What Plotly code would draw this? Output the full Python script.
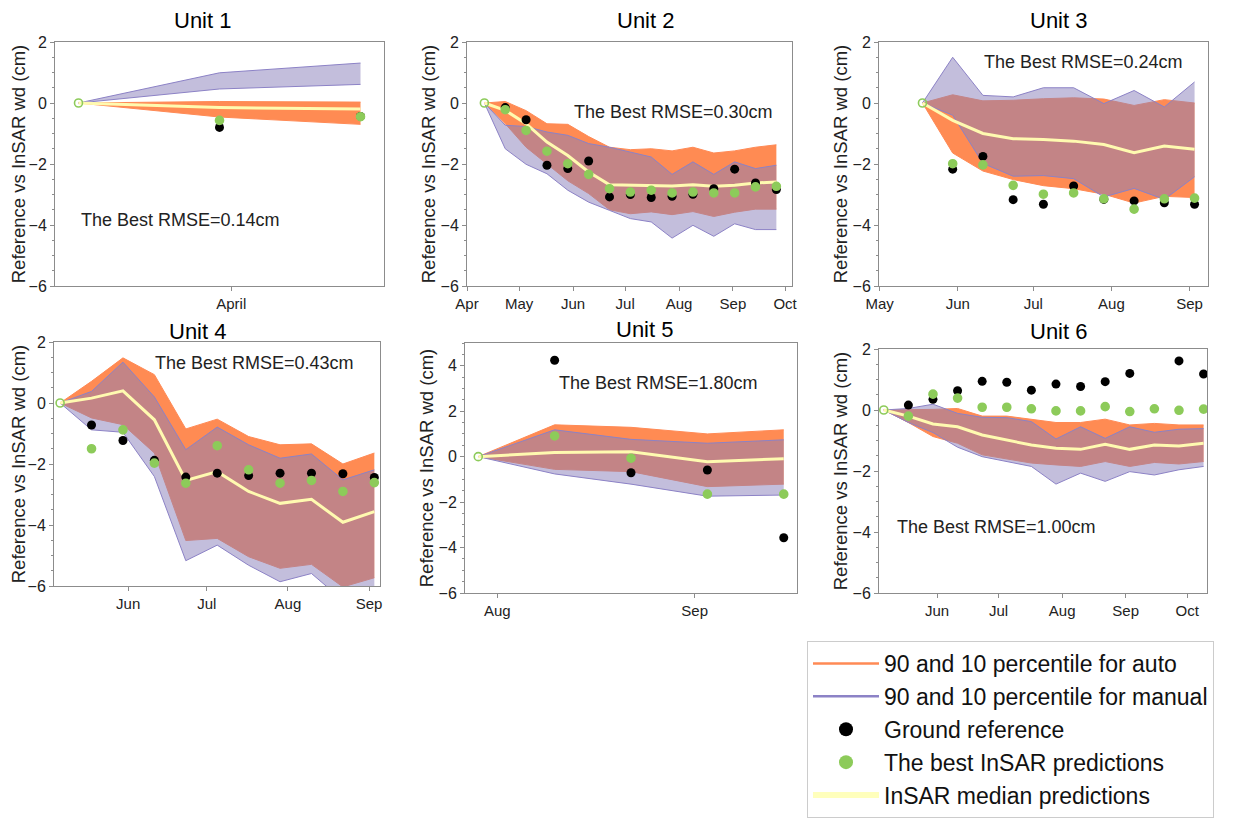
import plotly.graph_objects as go

# ---------------- data ----------------
units = ["Unit 1", "Unit 2", "Unit 3", "Unit 4", "Unit 5", "Unit 6"]
rmse_labels = ["The Best RMSE=0.14cm", "The Best RMSE=0.30cm", "The Best RMSE=0.24cm",
               "The Best RMSE=0.43cm", "The Best RMSE=1.80cm", "The Best RMSE=1.00cm"]

u1_dates = ["2017-03-19", "2017-03-31", "2017-04-12"]
u1_auto_hi = [0, 0.05, 0.03]
u1_auto_lo = [0, -0.46, -0.70]
u1_man_hi = [0, 0.99, 1.31]
u1_man_lo = [0, 0.46, 0.61]
u1_median = [0, -0.15, -0.20]
u1_ground = [None, -0.80, -0.44]
u1_best = [0, -0.57, -0.45]

u2_dates = ["2017-04-11", "2017-04-23", "2017-05-05", "2017-05-17", "2017-05-29", "2017-06-10",
            "2017-06-22", "2017-07-04", "2017-07-16", "2017-07-28", "2017-08-09", "2017-08-21",
            "2017-09-02", "2017-09-14", "2017-09-26"]
u2_auto_hi = [0, 0.05, -0.25, -0.68, -0.70, -1.10, -1.45, -1.53, -1.50, -1.57, -1.45, -1.64, -1.57, -1.45, -1.37]
u2_auto_lo = [0, -0.68, -1.45, -2.00, -2.55, -2.97, -3.50, -3.63, -3.57, -3.66, -3.56, -3.72, -3.58, -3.48, -3.48]
u2_man_hi = [0, -0.73, -0.77, -0.95, -1.06, -1.33, -1.45, -1.60, -1.77, -2.34, -1.93, -2.34, -1.93, -2.15, -2.04]
u2_man_lo = [0, -1.50, -2.01, -2.32, -2.86, -3.25, -3.52, -3.79, -3.90, -4.43, -4.01, -4.37, -3.96, -4.15, -4.15]
u2_median = [0, -0.24, -0.68, -1.28, -1.72, -2.26, -2.68, -2.70, -2.70, -2.72, -2.68, -2.73, -2.70, -2.62, -2.59]
u2_ground = [None, -0.15, -0.55, -2.04, -2.15, -1.90, -3.08, -3.00, -3.10, -3.06, -2.99, -2.81, -2.17, -2.62, -2.84]
u2_best = [0, -0.22, -0.90, -1.58, -1.99, -2.34, -2.81, -2.92, -2.86, -2.95, -2.92, -2.95, -2.95, -2.75, -2.73]

u3_dates = ["2017-05-18", "2017-05-30", "2017-06-11", "2017-06-23", "2017-07-05", "2017-07-17",
            "2017-07-29", "2017-08-10", "2017-08-22", "2017-09-03"]
u3_auto_hi = [0, 0.27, 0.07, 0.09, 0.14, 0.17, 0.13, -0.08, 0.11, 0.00]
u3_auto_lo = [0, -1.64, -2.23, -2.51, -2.71, -2.81, -2.99, -3.28, -3.06, -3.10]
u3_man_hi = [0, 1.50, 0.25, 0.20, 0.50, 0.50, -0.02, 0.41, -0.13, 0.69]
u3_man_lo = [0, -0.40, -1.98, -2.40, -2.38, -2.48, -3.08, -2.80, -3.16, -2.42]
u3_median = [0, -0.57, -1.00, -1.17, -1.20, -1.25, -1.36, -1.63, -1.41, -1.52]
u3_ground = [None, -2.17, -1.75, -3.17, -3.32, -2.72, -3.16, -3.21, -3.27, -3.32]
u3_best = [0, -1.99, -2.03, -2.70, -2.99, -2.95, -3.14, -3.48, -3.14, -3.12]

u4_dates = ["2017-05-06", "2017-05-18", "2017-05-30", "2017-06-11", "2017-06-23", "2017-07-05",
            "2017-07-17", "2017-07-29", "2017-08-10", "2017-08-22", "2017-09-03"]
u4_auto_hi = [0, 0.71, 1.48, 0.93, -0.85, -0.53, -1.10, -1.37, -1.34, -2.00, -1.64]
u4_auto_lo = [0, -0.49, -0.71, -1.64, -4.51, -4.44, -5.04, -5.42, -5.29, -6.03, -5.73]
u4_man_hi = [0, 0.38, 1.34, 0.20, -1.53, -0.79, -1.37, -1.81, -1.67, -2.52, -2.19]
u4_man_lo = [0, -0.88, -0.96, -2.41, -5.17, -4.66, -5.32, -5.86, -5.59, -6.47, -6.30]
u4_median = [0, 0.16, 0.40, -0.55, -2.54, -2.25, -2.90, -3.29, -3.16, -3.91, -3.56]
u4_ground = [None, -0.72, -1.23, -1.88, -2.43, -2.30, -2.38, -2.30, -2.30, -2.32, -2.44]
u4_best = [0, -1.50, -0.88, -1.97, -2.63, -1.40, -2.19, -2.63, -2.54, -2.90, -2.61]

u5_dates = ["2017-07-29", "2017-08-10", "2017-08-22", "2017-09-03", "2017-09-15"]
u5_auto_hi = [0, 1.40, 1.29, 1.00, 1.18]
u5_auto_lo = [0, -0.56, -0.66, -1.32, -1.21]
u5_man_hi = [0, 1.18, 0.76, 0.59, 0.74]
u5_man_lo = [0, -0.76, -1.21, -1.74, -1.69]
u5_median = [0, 0.18, 0.22, -0.22, -0.09]
u5_ground = [None, 4.24, -0.71, -0.59, -3.57]
u5_best = [0, 0.91, -0.07, -1.65, -1.65]

u6_dates = ["2017-05-06", "2017-05-18", "2017-05-30", "2017-06-11", "2017-06-23", "2017-07-05",
            "2017-07-17", "2017-07-29", "2017-08-10", "2017-08-22", "2017-09-03", "2017-09-15",
            "2017-09-27", "2017-10-09"]
u6_auto_hi = [0, 0.00, 0.02, 0.05, -0.20, -0.20, -0.30, -0.41, -0.41, -0.30, -0.49, -0.44, -0.49, -0.49]
u6_auto_lo = [0, -0.41, -0.87, -1.09, -1.47, -1.61, -1.74, -1.80, -1.85, -1.69, -1.85, -1.72, -1.77, -1.69]
u6_man_hi = [0, 0.05, 0.19, -0.11, -0.24, -0.25, -0.38, -0.95, -0.55, -0.93, -0.55, -0.73, -0.63, -0.61]
u6_man_lo = [0, -0.41, -0.74, -1.22, -1.53, -1.69, -1.85, -2.43, -2.07, -2.34, -2.02, -2.13, -1.96, -1.85]
u6_median = [0, -0.20, -0.46, -0.55, -0.82, -0.98, -1.15, -1.25, -1.29, -1.12, -1.29, -1.15, -1.18, -1.09]
u6_ground = [None, 0.16, 0.35, 0.63, 0.94, 0.91, 0.65, 0.85, 0.77, 0.93, 1.20, None, 1.61, 1.18]
u6_best = [0, -0.20, 0.52, 0.39, 0.09, 0.09, 0.04, -0.03, -0.03, 0.11, -0.05, 0.04, -0.01, 0.03]

legend_names = ["90 and 10 percentile for auto", "90 and 10 percentile for manual",
                "Ground reference", "The best InSAR predictions", "InSAR median predictions"]

# ---------------- styling ----------------
OFF = 8                      # page body margin in the browser
W, H = 1233 - OFF, 818 - OFF
FONT = "Liberation Sans, Arial, Helvetica, sans-serif"
ORANGE = "#ff8b53"
ORANGE_LINE = "#ff8a55"
PURPLE_FILL = "rgba(135,125,185,0.5)"
PURPLE_LINE = "#8c82c6"
YELLOW = "#fffab0"
GREEN = "#8dcb5a"
AXIS = "#8c8c8c"


def px(x):
    return (x - OFF) / W


def py(y):
    return 1 - (y - OFF) / H


panels = [
    dict(d=u1_dates, ah=u1_auto_hi, al=u1_auto_lo, mh=u1_man_hi, ml=u1_man_lo, md=u1_median, g=u1_ground, b=u1_best,
         box=(55, 384, 42, 286), rng=["2017-03-17", "2017-04-14"], yr=[-6, 2],
         tv=["2017-04-01"], tt=["April"], title=(202, 20), ann=(79, 220)),
    dict(d=u2_dates, ah=u2_auto_hi, al=u2_auto_lo, mh=u2_man_hi, ml=u2_man_lo, md=u2_median, g=u2_ground, b=u2_best,
         box=(467, 792, 42, 286), rng=["2017-04-01", "2017-10-05"], yr=[-6, 2],
         tv=None, tt=None, title=(645, 20), ann=(572, 112)),
    dict(d=u3_dates, ah=u3_auto_hi, al=u3_auto_lo, mh=u3_man_hi, ml=u3_man_lo, md=u3_median, g=u3_ground, b=u3_best,
         box=(879, 1208, 42, 286), rng=["2017-04-30 18:00", "2017-09-08 08:00"], yr=[-6, 2],
         tv=None, tt=None, title=(1058, 20), ann=(982, 62)),
    dict(d=u4_dates, ah=u4_auto_hi, al=u4_auto_lo, mh=u4_man_hi, ml=u4_man_lo, md=u4_median, g=u4_ground, b=u4_best,
         box=(54, 380, 342, 586), rng=["2017-05-03 16:00", "2017-09-05 04:00"], yr=[-6, 2],
         tv=None, tt=None, title=(197, 331), ann=(153, 363)),
    dict(d=u5_dates, ah=u5_auto_hi, al=u5_auto_lo, mh=u5_man_hi, ml=u5_man_lo, md=u5_median, g=u5_ground, b=u5_best,
         box=(465, 797, 343, 593), rng=["2017-07-26 22:00", "2017-09-17 02:00"], yr=[-6, 5],
         tv=None, tt=None, title=(644, 330), ann=(557, 383)),
    dict(d=u6_dates, ah=u6_auto_hi, al=u6_auto_lo, mh=u6_man_hi, ml=u6_man_lo, md=u6_median, g=u6_ground, b=u6_best,
         box=(879, 1207, 349, 593), rng=["2017-05-03 16:00", "2017-10-10 16:00"], yr=[-6, 2],
         tv=None, tt=None, title=(1058, 331), ann=(895, 527)),
]

fig = go.Figure()
annotations = []
layout_axes = {}

for i, p in enumerate(panels, start=1):
    xa, ya = f"x{i}", f"y{i}"
    common = dict(x=p["d"], xaxis=xa, yaxis=ya, showlegend=False, hoverinfo="skip")
    fig.add_trace(go.Scatter(y=p["ah"], mode="lines", line=dict(color=ORANGE_LINE, width=1), **common))
    fig.add_trace(go.Scatter(y=p["al"], mode="lines", line=dict(color=ORANGE_LINE, width=1),
                             fill="tonexty", fillcolor=ORANGE, **common))
    fig.add_trace(go.Scatter(y=p["mh"], mode="lines", line=dict(color=PURPLE_LINE, width=1), **common))
    fig.add_trace(go.Scatter(y=p["ml"], mode="lines", line=dict(color=PURPLE_LINE, width=1),
                             fill="tonexty", fillcolor=PURPLE_FILL, **common))
    fig.add_trace(go.Scatter(y=p["md"], mode="lines", line=dict(color=YELLOW, width=3), **common))
    fig.add_trace(go.Scatter(y=p["g"], mode="markers", marker=dict(color="black", size=9), **common))
    syms = ["circle-open"] + ["circle"] * (len(p["b"]) - 1)
    fig.add_trace(go.Scatter(y=p["b"], mode="markers",
                             marker=dict(color=GREEN, size=8, symbol=syms, line=dict(color=GREEN, width=1.6)),
                             **common))

    x0, x1, y0, y1 = p["box"]
    xkey = "xaxis" if i == 1 else f"xaxis{i}"
    ykey = "yaxis" if i == 1 else f"yaxis{i}"
    xax = dict(domain=[px(x0), px(x1)], anchor=ya, type="date", range=p["rng"],
               showgrid=False, zeroline=False, showline=True, linecolor=AXIS, linewidth=1, mirror=True,
               ticks="outside", ticklen=4, tickcolor=AXIS, tickfont=dict(size=15, color="#222"),
               tickformat="%b", dtick="M1", automargin=False)
    if p["tv"] is not None:
        xax.update(tickmode="array", tickvals=p["tv"], ticktext=p["tt"])
    yax = dict(domain=[py(y1), py(y0)], anchor=xa, range=p["yr"],
               showgrid=False, zeroline=False, showline=True, linecolor=AXIS, linewidth=1, mirror=True,
               ticks="outside", ticklen=4, tickcolor=AXIS, dtick=2, tick0=0,
               tickfont=dict(size=16, color="#222"), automargin=False,
               minor=dict(dtick=0.5, ticks="outside", ticklen=2.5, tickcolor=AXIS),
               title=dict(text="Reference vs InSAR wd (cm)", font=dict(size=18.5, color="#222"), standoff=0))
    layout_axes[xkey] = xax
    layout_axes[ykey] = yax

    tx, ty = p["title"]
    annotations.append(dict(text=units[i - 1], x=px(tx), y=py(ty), xref="paper", yref="paper",
                            xanchor="center", yanchor="middle", showarrow=False, borderpad=0,
                            font=dict(size=22, color="black")))
    axx, axy = p["ann"]
    annotations.append(dict(text=rmse_labels[i - 1], x=px(axx), y=py(axy), xref="paper", yref="paper",
                            xanchor="left", yanchor="middle", showarrow=False,
                            font=dict(size=18, color="#222")))

# legend-only entries
leg_common = dict(x=[None], y=[None], xaxis="x", yaxis="y", hoverinfo="skip")
fig.add_trace(go.Scatter(name=legend_names[0], mode="lines", line=dict(color=ORANGE_LINE, width=2.5),
                         legendgroup="a", **leg_common))
fig.add_trace(go.Scatter(name=legend_names[1], mode="lines", line=dict(color=PURPLE_LINE, width=2.5),
                         legendgroup="b", **leg_common))
fig.add_trace(go.Scatter(name=legend_names[2], mode="markers", marker=dict(color="black", size=14),
                         legendgroup="c", **leg_common))
fig.add_trace(go.Scatter(name=legend_names[3], mode="markers", marker=dict(color=GREEN, size=14),
                         legendgroup="d", **leg_common))
fig.add_trace(go.Scatter(name=legend_names[4], mode="lines", line=dict(color="#ffffbc", width=6),
                         legendgroup="e", **leg_common))

fig.update_layout(
    width=W, height=H, margin=dict(l=0, r=0, t=0, b=0, autoexpand=False),
    paper_bgcolor="white", plot_bgcolor="white",
    font=dict(family=FONT, color="#222"),
    annotations=annotations,
    showlegend=True,
    legend=dict(x=px(807), y=py(641), xanchor="left", yanchor="top",
                bgcolor="white", bordercolor="#cccccc", borderwidth=1,
                font=dict(size=23, color="#111"), traceorder="grouped", tracegroupgap=0,
                itemwidth=66),
    **layout_axes,
)

fig.write_html("out.html")
